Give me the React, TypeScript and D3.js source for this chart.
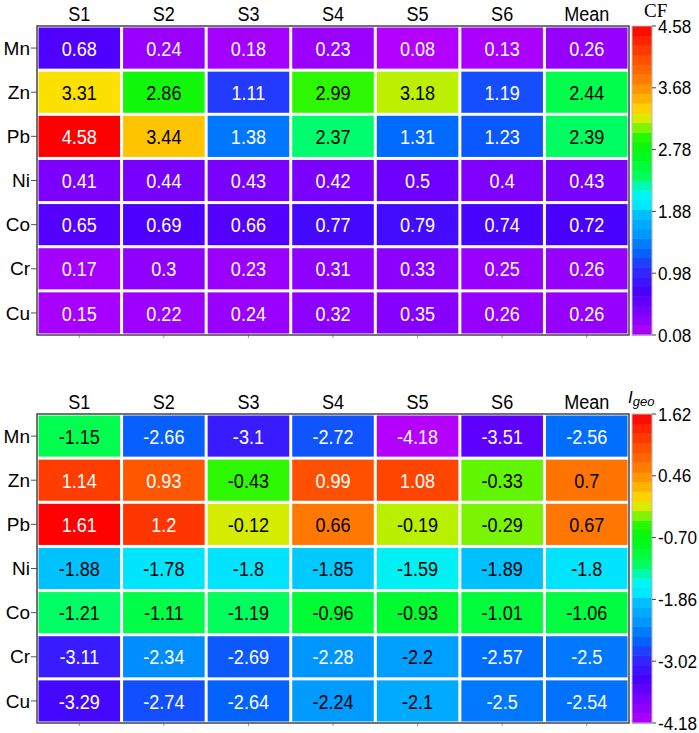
import React from 'react';
import * as d3 from 'd3';

const rows = ['Mn', 'Zn', 'Pb', 'Ni', 'Co', 'Cr', 'Cu'];
const cols = ['S1', 'S2', 'S3', 'S4', 'S5', 'S6', 'Mean'];

const cfValues = [
  [0.68, 0.24, 0.18, 0.23, 0.08, 0.13, 0.26],
  [3.31, 2.86, 1.11, 2.99, 3.18, 1.19, 2.44],
  [4.58, 3.44, 1.38, 2.37, 1.31, 1.23, 2.39],
  [0.41, 0.44, 0.43, 0.42, 0.5, 0.4, 0.43],
  [0.65, 0.69, 0.66, 0.77, 0.79, 0.74, 0.72],
  [0.17, 0.3, 0.23, 0.31, 0.33, 0.25, 0.26],
  [0.15, 0.22, 0.24, 0.32, 0.35, 0.26, 0.26],
];
const igeoValues = [
  [-1.15, -2.66, -3.1, -2.72, -4.18, -3.51, -2.56],
  [1.14, 0.93, -0.43, 0.99, 1.08, -0.33, 0.7],
  [1.61, 1.2, -0.12, 0.66, -0.19, -0.29, 0.67],
  [-1.88, -1.78, -1.8, -1.85, -1.59, -1.89, -1.8],
  [-1.21, -1.11, -1.19, -0.96, -0.93, -1.01, -1.06],
  [-3.11, -2.34, -2.69, -2.28, -2.2, -2.57, -2.5],
  [-3.29, -2.74, -2.64, -2.24, -2.1, -2.5, -2.54],
];
const cfTicks = [0.08, 0.98, 1.88, 2.78, 3.68, 4.58];
const igeoTicks = [-4.18, -3.02, -1.86, -0.7, 0.46, 1.62];

// rainbow palette (purple -> red), positions 0..1
const stopPos = [0, 0.07, 0.14, 0.22, 0.27, 0.33, 0.4, 0.41, 0.46, 0.52, 0.6, 0.65, 0.69, 0.72, 0.75, 0.82, 0.9, 1];
const stopCol = ['#b400ff', '#8000ff', '#4a00ff', '#2a30ff', '#0068ff', '#0098ff', '#00c4ff', '#00e4ff', '#00f6f0',
  '#00ff50', '#00f810', '#30f800', '#c0f000', '#ffe000', '#ffc000', '#ff8200', '#ff4a00', '#ff0000'];
const palette = d3.scaleLinear<string>().domain(stopPos).range(stopCol).interpolate(d3.interpolateRgb).clamp(true);

const font = 'Arial, "Liberation Sans", sans-serif';
const squeeze = 0.86;

function Heatmap({ top, values, ticks, title }) {
  const left = 37, right = 629, bottom = top + 309;
  const x = d3.scaleBand().domain(cols).range([left, right]);
  const y = d3.scaleBand().domain(rows).range([top, bottom]);
  const lo = ticks[0], hi = ticks[ticks.length - 1];
  const norm = d3.scaleLinear().domain([lo, hi]).range([0, 1]);
  const cb = d3.scaleLinear().domain([lo, hi]).range([bottom, top]);
  const cbX = 632, cbW = 20;
  const nBands = 32;
  const bands = d3.range(nBands);
  const inset = 1.5;

  return (
    <g>
      {cols.map((c) => (
        <text key={c} transform={`translate(${x(c) + x.bandwidth() / 2},${top - 5}) scale(${squeeze},1)`}
          textAnchor="middle" fontSize={21} fontFamily={font}>{c}</text>
      ))}
      {rows.map((r) => (
        <g key={r}>
          <text x={30} y={y(r) + y.bandwidth() / 2} dy="0.35em" textAnchor="end" fontSize={19} fontFamily={font}>{r}</text>
          <line x1={31} x2={left} y1={y(r) + y.bandwidth() / 2} y2={y(r) + y.bandwidth() / 2} stroke="#555" />
        </g>
      ))}
      {cols.map((c) => (
        <line key={c} x1={x(c) + x.bandwidth() / 2} x2={x(c) + x.bandwidth() / 2} y1={bottom} y2={bottom + 3} stroke="#999" />
      ))}
      {values.map((row, i) =>
        row.map((v, j) => {
          const t = norm(v);
          const fill = palette(t);
          const txt = t < 0.331 || t > 0.86 ? '#fff' : '#000';
          return (
            <g key={`${i}-${j}`}>
              <rect x={x(cols[j]) + inset} y={y(rows[i]) + inset} width={x.bandwidth() - 2 * inset} height={y.bandwidth() - 2 * inset} fill={fill} />
              <text transform={`translate(${x(cols[j]) + x.bandwidth() / 2},${y(rows[i]) + y.bandwidth() / 2}) scale(${squeeze},1)`}
                dy="0.36em" textAnchor="middle" fontSize={21} fontFamily={font} fill={txt}>{String(v)}</text>
            </g>
          );
        })
      )}
      <rect x={left} y={top} width={right - left} height={bottom - top} fill="none" stroke="#444" strokeWidth={1.5} />
      {bands.map((b) => {
        const v0 = lo + ((hi - lo) * b) / nBands;
        const v1 = lo + ((hi - lo) * (b + 1)) / nBands;
        return <rect key={b} x={cbX} y={cb(v1)} width={cbW} height={cb(v0) - cb(v1) + 0.5} fill={palette(norm((v0 + v1) / 2))} />;
      })}
      <rect x={cbX} y={top} width={cbW} height={bottom - top} fill="none" stroke="#bbb" strokeWidth={1} />
      {ticks.map((tk) => (
        <g key={tk}>
          <line x1={cbX + cbW} x2={cbX + cbW + 4} y1={cb(tk)} y2={cb(tk)} stroke="#444" />
          <text transform={`translate(${cbX + cbW + 6},${cb(tk)}) scale(0.9,1)`} dy="0.35em" fontSize={19} fontFamily={font}>{tk.toFixed(2)}</text>
        </g>
      ))}
      {title}
    </g>
  );
}

export default function App() {
  return (
    <svg width={699} height={733} style={{ position: 'absolute', left: 0, top: 0, background: '#fff' }}>
      <Heatmap
        top={26}
        values={cfValues}
        ticks={cfTicks}
        title={<text x={644} y={17} fontSize={19} fontFamily='"Liberation Serif", "DejaVu Serif", serif'>CF</text>}
      />
      <Heatmap
        top={414}
        values={igeoValues}
        ticks={igeoTicks}
        title={
          <text x={628} y={403} fontFamily={font} fontStyle="italic">
            <tspan fontSize={17}>I</tspan>
            <tspan fontSize={13} dy={3}>geo</tspan>
          </text>
        }
      />
    </svg>
  );
}
